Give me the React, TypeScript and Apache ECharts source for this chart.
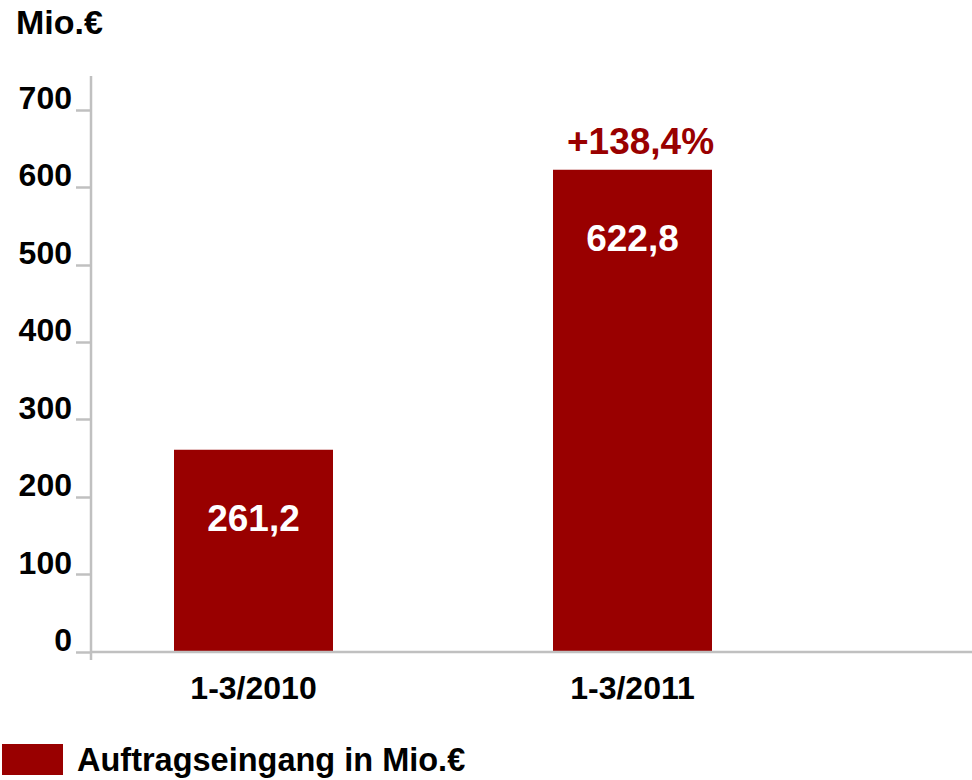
import React, { useEffect, useRef } from "react";
import * as echarts from "echarts";

const categories = ["1-3/2010", "1-3/2011"];
const values = [261.2, 622.8];
const valueLabels = ["261,2", "622,8"];
const growthLabels = ["", "+138,4%"];
const yTicks = [0, 100, 200, 300, 400, 500, 600, 700];
const unitLabel = "Mio.€";
const seriesName = "Auftragseingang in Mio.€";

const RED = "#990000";
const GRAY = "#c0c0c0";
const FONT = "'Liberation Sans', Arial, Helvetica, sans-serif";

export default function App() {
  const ref = useRef<HTMLDivElement>(null);
  useEffect(() => {
    document.body.style.margin = "0";
    const chart = echarts.init(ref.current!, null, { renderer: "svg" });
    chart.setOption({
      animation: false,
      textStyle: { fontFamily: FONT },
      grid: { left: 64, width: 758, top: 110, bottom: 128, containLabel: false },
      title: {
        text: unitLabel,
        left: 16,
        top: 5,
        padding: 0,
        textStyle: { fontSize: 34, fontWeight: "bold", color: "#000", fontFamily: FONT },
      },
      legend: {
        data: [seriesName],
        left: 2,
        top: 743,
        padding: 0,
        itemWidth: 61,
        itemHeight: 31,
        icon: "rect",
        textStyle: { fontSize: 32.5, fontWeight: "bold", color: "#000", fontFamily: FONT, padding: [0, 0, 0, 9] },
      },
      xAxis: {
        type: "category",
        data: categories,
        axisLine: { show: false },
        axisTick: { show: false },
        axisLabel: { fontSize: 32, fontWeight: "bold", color: "#000", margin: 20, fontFamily: FONT },
      },
      yAxis: {
        type: "value",
        min: yTicks[0],
        max: yTicks[yTicks.length - 1],
        interval: 100,
        offset: -27,
        splitLine: { show: false },
        axisLine: { show: false },
        axisTick: { show: true, length: 15, lineStyle: { color: GRAY, width: 2.5 } },
        axisLabel: {
          fontSize: 32,
          fontWeight: "bold",
          color: "#000",
          margin: 19,
          verticalAlign: "bottom",
          lineHeight: 24,
          fontFamily: FONT,
        },
      },
      graphic: [
        { type: "line", shape: { x1: 91, y1: 76, x2: 91, y2: 660 }, style: { stroke: GRAY, lineWidth: 2.5 }, z: 10 },
        { type: "line", shape: { x1: 90, y1: 652, x2: 972, y2: 652 }, style: { stroke: GRAY, lineWidth: 2.5 }, z: 10 },
      ],
      series: [
        {
          name: seriesName,
          type: "bar",
          data: values,
          barWidth: 159,
          itemStyle: { color: RED },
          label: {
            show: true,
            position: "insideTop",
            distance: 50,
            formatter: (p: any) => valueLabels[p.dataIndex],
            color: "#fff",
            fontSize: 37,
            fontWeight: "bold",
            fontFamily: FONT,
          },
        },
        {
          name: "growth",
          type: "bar",
          data: values,
          barWidth: 159,
          barGap: "-100%",
          silent: true,
          itemStyle: { color: "transparent" },
          label: {
            show: true,
            position: "top",
            distance: 10,
            offset: [8, 0],
            formatter: (p: any) => growthLabels[p.dataIndex],
            color: RED,
            fontSize: 37,
            fontWeight: "bold",
            fontFamily: FONT,
          },
        },
      ],
    });
    return () => chart.dispose();
  }, []);
  return <div ref={ref} style={{ width: 972, height: 780 }} />;
}
